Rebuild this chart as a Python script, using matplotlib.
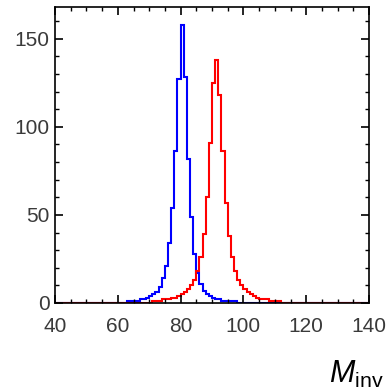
import numpy as np
import matplotlib
matplotlib.use("Agg")
import matplotlib.pyplot as plt
from matplotlib.ticker import MultipleLocator

plt.rcParams['font.family'] = ['Liberation Sans', 'DejaVu Sans']
plt.rcParams['mathtext.fontset'] = 'custom'
plt.rcParams['mathtext.it'] = 'Liberation Sans:italic'
plt.rcParams['mathtext.rm'] = 'Liberation Sans'

# 1 GeV bins from 40 to 140
bin_lo = 40
bin_hi = 140

# W candidates (blue), counts per bin
w_counts = [
    0, 0, 0, 0, 0, 0, 0, 0, 0, 0,          # 40-49
    0, 0, 0, 0, 0, 0, 0, 0, 0, 0,          # 50-59
    0, 0, 0, 1, 1, 1, 1, 2, 2, 3,          # 60-69
    4, 5, 6, 9, 14, 21, 34, 54, 86, 127,   # 70-79
    158, 128, 82, 49, 28, 17, 11, 7, 5, 4, # 80-89
    3, 2, 2, 1, 1, 1, 1, 1, 0, 0,          # 90-99
    0, 0, 0, 0, 0, 0, 0, 0, 0, 0,          # 100-109
    0, 0, 0, 0, 0, 0, 0, 0, 0, 0,          # 110-119
    0, 0, 0, 0, 0, 0, 0, 0, 0, 0,          # 120-129
    0, 0, 0, 0, 0, 0, 0, 0, 0, 0,          # 130-139
]

# Z candidates (red), counts per bin
z_counts = [
    0, 0, 0, 0, 0, 0, 0, 0, 0, 0,            # 40-49
    0, 0, 0, 0, 0, 0, 0, 0, 0, 0,            # 50-59
    0, 0, 0, 0, 0, 0, 0, 0, 0, 0,            # 60-69
    0, 1, 1, 1, 2, 2, 2, 3, 3, 4,            # 70-79
    5, 6, 8, 10, 13, 18, 26, 39, 60, 91,     # 80-89
    125, 138, 118, 86, 57, 38, 26, 18, 13, 10,  # 90-99
    8, 6, 5, 4, 3, 2, 2, 2, 1, 1,            # 100-109
    1, 1, 0, 0, 0, 0, 0, 0, 0, 0,            # 110-119
    0, 0, 0, 0, 0, 0, 0, 0, 0, 0,            # 120-129
    0, 0, 0, 0, 0, 0, 0, 0, 0, 0,            # 130-139
]

edges = np.arange(bin_lo, bin_hi + 1, 1)

fig = plt.figure(figsize=(3.89, 3.89), dpi=100)
ax = fig.add_axes([0.1414, 0.2211, 0.8072, 0.7609])

ax.stairs(w_counts, edges, color="blue", linewidth=1.5)
ax.stairs(z_counts, edges, color="red", linewidth=1.5)

ax.set_xlim(40, 140)
ax.set_ylim(0, 168)

ax.xaxis.set_major_locator(MultipleLocator(20))
ax.xaxis.set_minor_locator(MultipleLocator(5))
ax.yaxis.set_major_locator(MultipleLocator(50))
ax.yaxis.set_minor_locator(MultipleLocator(10))

ax.tick_params(which="both", direction="in", top=True, right=True,
               colors="black", labelcolor="#3a3a3a", labelsize=15)
ax.tick_params(which="major", length=6, width=1.2)
ax.tick_params(which="minor", length=3, width=1.0)
ax.tick_params(axis="x", pad=10)
ax.tick_params(axis="y", pad=4)

for s in ax.spines.values():
    s.set_linewidth(1.2)

# axis label sits off to the right and runs past the figure edge
fig.text(329 / 389, 6 / 389, r"$M_{\mathrm{inv}}$", fontsize=22,
         ha="left", va="baseline", color="black")

fig.savefig("out.png", dpi=100)
